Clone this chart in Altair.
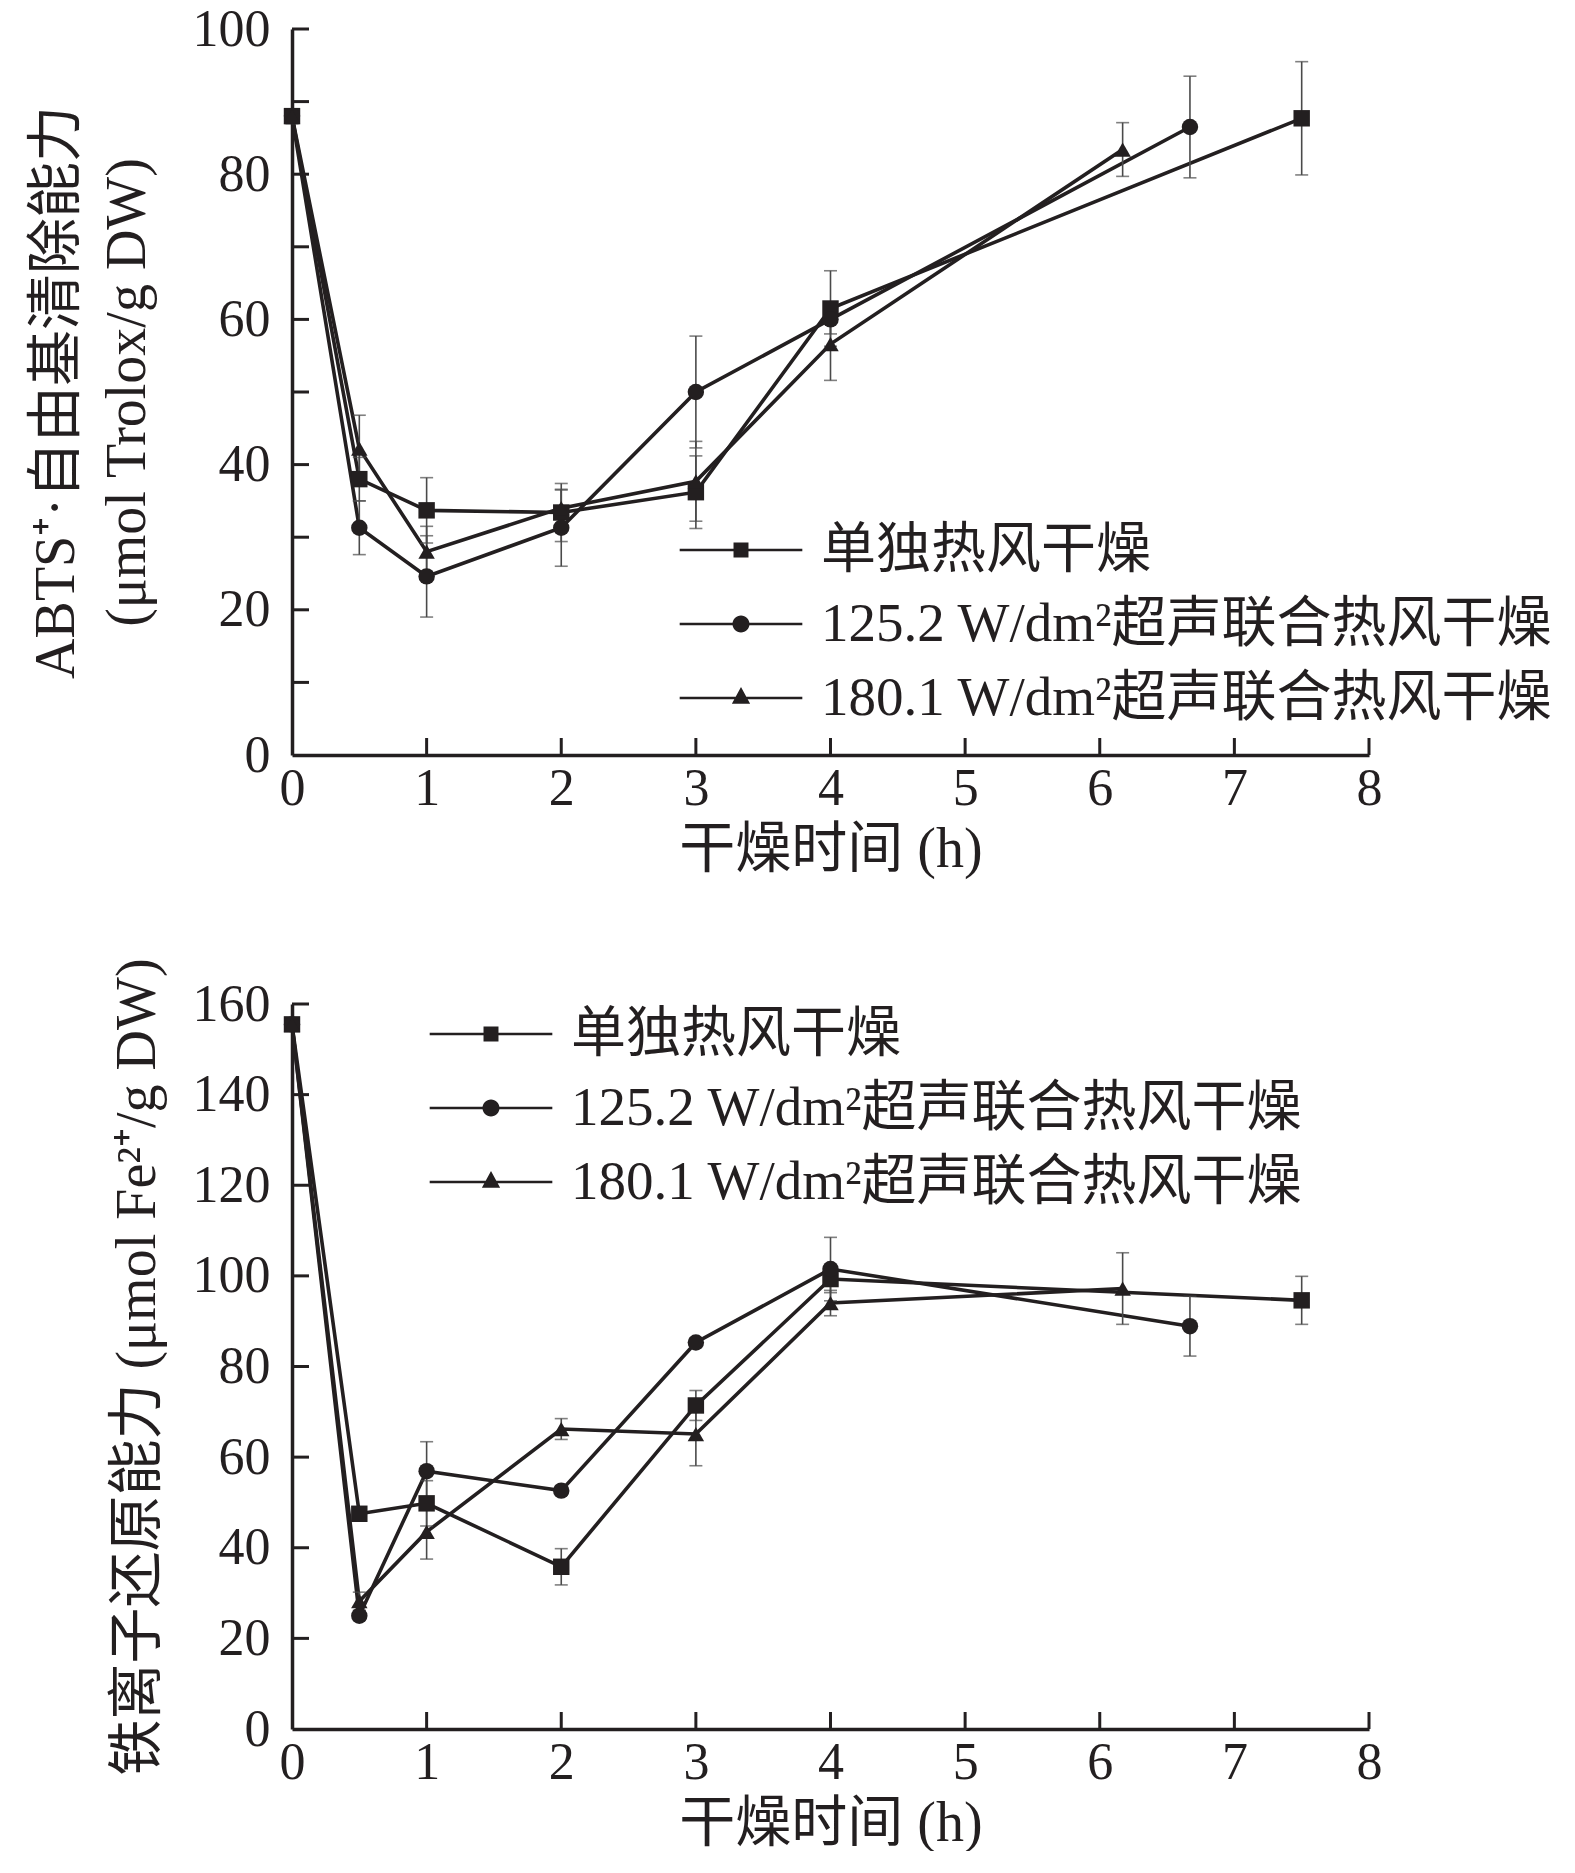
import altair as alt
import pandas as pd

INK = "#231f20"
SERIF = "Liberation Serif, Noto Sans CJK SC"

SERIES = ["单独热风干燥", "125.2 W/dm²超声联合热风干燥", "180.1 W/dm²超声联合热风干燥"]
SHAPES = ["square", "circle", "triangle-up"]

# ---- ABTS radical scavenging (top) ----
abts_t_sq = [0, 0.5, 1, 2, 3, 4, 7.5]
abts_v_sq = [88.0, 38.0, 33.7, 33.4, 36.2, 61.5, 87.7]
abts_e_sq = [1.0, 3.0, 4.5, 4.0, 5.0, 5.2, 7.8]
abts_t_ci = [0, 0.5, 1, 2, 3, 4, 6.67]
abts_v_ci = [88.0, 31.3, 24.6, 31.3, 50.0, 60.0, 86.5]
abts_e_ci = [1.0, 3.7, 5.6, 5.3, 7.7, 2.0, 7.0]
abts_t_tr = [0, 0.5, 1, 2, 3, 4, 6.17]
abts_v_tr = [88.0, 42.2, 28.0, 34.0, 37.7, 56.6, 83.4]
abts_e_tr = [1.0, 4.6, 3.5, 2.5, 5.5, 5.0, 3.7]

# ---- Ferric reducing power (bottom) ----
frap_t_sq = [0, 0.5, 1, 2, 3, 4, 7.5]
frap_v_sq = [155.5, 47.5, 49.8, 35.8, 71.4, 99.3, 94.6]
frap_e_sq = [1.0, 1.0, 5.0, 4.0, 3.3, 3.0, 5.3]
frap_t_ci = [0, 0.5, 1, 2, 3, 4, 6.67]
frap_v_ci = [155.5, 25.0, 56.9, 52.6, 85.3, 101.5, 88.9]
frap_e_ci = [1.0, 1.0, 6.5, 1.0, 1.0, 7.0, 6.6]
frap_t_tr = [0, 0.5, 1, 2, 3, 4, 6.17]
frap_v_tr = [155.5, 28.2, 43.5, 66.2, 65.1, 94.0, 97.2]
frap_e_tr = [1.0, 2.0, 6.0, 2.3, 7.0, 2.8, 7.9]

X_TICKS = [0, 1, 2, 3, 4, 5, 6, 7, 8]
ABTS_LABELS = [0, 20, 40, 60, 80, 100]
ABTS_TICKS = [10, 20, 30, 40, 50, 60, 70, 80, 90, 100]
FRAP_LABELS = [0, 20, 40, 60, 80, 100, 120, 140, 160]
FRAP_TICKS = [20, 40, 60, 80, 100, 120, 140, 160]

# legend symbols: line segment + marker (custom paths, unit = sqrt(size)/2)
LINE = "M-1.68,-0.037H1.68V0.037H-1.68Z"
LEG_PATHS = [
    LINE + "M-0.205,-0.205H0.205V0.205H-0.205Z",
    LINE + "M0.233,0A0.233,0.233,0,1,1,-0.233,0A0.233,0.233,0,1,1,0.233,0Z",
    LINE + "M0,-0.30L0.25,0.16H-0.25Z",
]


def frame(ts, vs, es):
    rows = []
    for name, t, v, e in zip(SERIES, ts, vs, es):
        for a, b, c in zip(t, v, e):
            rows.append({"s": name, "t": a, "v": b, "lo": b - c, "hi": b + c})
    return pd.DataFrame(rows)


W = 1077


def panel(df, ymax, labels, ticks, ytitle, H, leg_x, leg_y, ytitle_pad):
    xs = alt.Scale(domain=[0, 8], nice=False)
    ys = alt.Scale(domain=[0, ymax], nice=False)
    xax = alt.Axis(values=X_TICKS, title="干燥时间 (h)", labelPadding=8, titlePadding=8, labelFlush=False)
    yax = alt.Axis(values=labels, title=ytitle, labelPadding=22, titlePadding=ytitle_pad,
                   labelFlush=False, titleLineHeight=71)

    def X(f="t"):
        return alt.X(f + ":Q", scale=xs, axis=xax)

    def Y(f="v"):
        return alt.Y(f + ":Q", scale=ys, axis=yax)

    base = alt.Chart(df)
    lines = base.mark_line(strokeWidth=3.6, color=INK).encode(x=X(), y=Y(), detail="s:N")
    err = base.mark_errorbar(ticks={"size": 13, "thickness": 1.6, "color": "#4a4a4a"},
                             thickness=1.6, color="#4a4a4a").encode(
        x=X(), y=Y("lo"), y2="hi:Q", detail="s:N")
    pts = base.mark_point(filled=True, opacity=1, size=270, color=INK).encode(
        x=X(), y=Y(),
        shape=alt.Shape("s:N", scale=alt.Scale(domain=SERIES, range=SHAPES), legend=None))
    leg = base.transform_filter("false").mark_point(filled=True, opacity=1, color=INK, strokeWidth=0).encode(
        x=X(), y=Y(),
        shape=alt.Shape("s:N", scale=alt.Scale(domain=SERIES, range=LEG_PATHS),
                        legend=alt.Legend(orient="none", legendX=leg_x, legendY=leg_y, title=None,
                                          symbolSize=5329, symbolStrokeWidth=0, symbolFillColor=INK,
                                          symbolOpacity=1, labelFont=SERIF, labelFontSize=55,
                                          labelColor=INK, labelOffset=43.5, rowPadding=9, padding=0,
                                          labelLimit=3000)))
    ytk = alt.Chart(pd.DataFrame({"v": ticks})).mark_rule(strokeWidth=3, color=INK).encode(
        y=Y(), x=alt.value(0), x2=alt.value(17))
    xtk = alt.Chart(pd.DataFrame({"t": X_TICKS[1:]})).mark_rule(strokeWidth=3, color=INK).encode(
        x=X(), y=alt.value(H), y2=alt.value(H - 17))
    return alt.layer(lines, err, pts, leg, ytk, xtk).resolve_scale(shape="independent").properties(
        width=W, height=H)


top = panel(frame([abts_t_sq, abts_t_ci, abts_t_tr], [abts_v_sq, abts_v_ci, abts_v_tr],
                  [abts_e_sq, abts_e_ci, abts_e_tr]),
            100, ABTS_LABELS, ABTS_TICKS, ["ABTS⁺·自由基清除能力", "(μmol Trolox/g DW)"],
            726, 412.5, 484.5, 36)
bottom = panel(frame([frap_t_sq, frap_t_ci, frap_t_tr], [frap_v_sq, frap_v_ci, frap_v_tr],
                     [frap_e_sq, frap_e_ci, frap_e_tr]),
               160, FRAP_LABELS, FRAP_TICKS, "铁离子还原能力 (μmol Fe²⁺/g DW)",
               725, 162.5, -6.5, 26)

chart = alt.vconcat(top, bottom, spacing=80).properties(
    padding={"left": 20, "top": -5, "right": 5, "bottom": 0}
).configure_view(stroke=None).configure_axis(
    labelFont="Liberation Serif", labelFontSize=52, labelColor=INK,
    titleFont=SERIF, titleFontSize=56, titleColor=INK, titleFontWeight="normal",
    domainColor=INK, domainWidth=3.5, ticks=False, tickSize=0, grid=False,
)

chart.save("out.html", embed_options={"renderer": "svg", "actions": False})
